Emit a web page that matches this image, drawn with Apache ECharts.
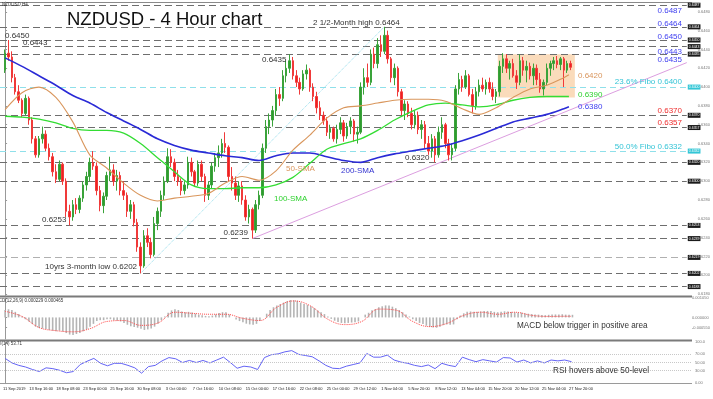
<!DOCTYPE html>
<html>
<head>
<meta charset="utf-8">
<script src="https://cdn.jsdelivr.net/npm/echarts@6.0.0/dist/echarts.min.js"></script>
<style>html,body{margin:0;padding:0;background:#fff;}#chart{width:713px;height:399px;}</style>
</head>
<body>
<div id="chart"></div>
<script>
// ---------------- DATA (prices in pips: price x 10000) ----------------
// one candle per two 4H bars
const opens = [6418,6436,6432,6410,6395,6386,6372,6388,6365,6345,6328,6345,6350,6335,6326,6310,6302,6318,6300,6268,
6262,6275,6270,6282,6296,6305,6320,6316,6290,6274,6284,6306,6312,6300,6306,6290,6285,6268,6275,6256,
6230,6210,6242,6235,6222,6255,6268,6285,6300,6326,6320,6305,6300,6290,6296,6320,6310,6298,6318,6305,
6285,6296,6316,6325,6330,6340,6336,6305,6298,6285,6295,6280,6262,6270,6248,6275,6285,6335,6358,6365,
6375,6392,6388,6412,6420,6428,6412,6405,6398,6414,6418,6400,6390,6378,6370,6364,6352,6356,6345,6355,
6362,6348,6358,6364,6350,6352,6400,6410,6405,6435,6425,6445,6438,6455,6430,6410,6420,6395,6375,6382,
6372,6360,6370,6355,6360,6340,6332,6345,6328,6352,6360,6340,6328,6335,6398,6408,6400,6412,6392,6380,
6395,6402,6398,6405,6398,6390,6395,6422,6430,6420,6425,6412,6405,6428,6418,6422,6412,6420,6408,6398,
6405,6420,6425,6428,6424,6430,6418,6425];
const highs = [6440,6450,6438,6414,6402,6388,6392,6390,6368,6348,6348,6358,6354,6340,6330,6318,6322,6320,6303,6275,
6280,6282,6285,6300,6310,6325,6332,6320,6295,6288,6310,6326,6318,6312,6310,6300,6288,6280,6278,6260,
6235,6248,6250,6240,6262,6272,6290,6305,6335,6334,6324,6312,6303,6300,6326,6325,6312,6322,6322,6308,
6300,6320,6330,6338,6345,6352,6338,6315,6305,6300,6300,6285,6275,6272,6280,6290,6340,6365,6372,6380,
6398,6400,6418,6428,6435,6432,6418,6410,6418,6424,6420,6404,6395,6385,6374,6368,6360,6358,6360,6368,
6365,6362,6368,6366,6358,6405,6420,6425,6440,6442,6452,6455,6464,6460,6432,6425,6422,6398,6386,6385,
6378,6375,6374,6365,6364,6348,6350,6348,6358,6368,6362,6345,6340,6402,6415,6412,6418,6414,6398,6400,
6408,6410,6408,6410,6405,6398,6428,6436,6435,6428,6430,6418,6435,6432,6428,6426,6425,6424,6415,6408,
6425,6428,6432,6433,6432,6432,6428,6428];
const lows = [6415,6428,6405,6392,6383,6368,6370,6360,6340,6325,6325,6340,6332,6322,6305,6298,6300,6296,6262,6253,
6258,6265,6266,6278,6290,6300,6312,6285,6268,6266,6280,6300,6295,6290,6285,6280,6262,6260,6252,6225,
6202,6208,6230,6218,6220,6248,6262,6280,6298,6315,6300,6295,6285,6286,6292,6305,6294,6295,6300,6278,
6280,6292,6310,6315,6325,6330,6300,6290,6280,6278,6275,6258,6255,6239,6245,6270,6282,6330,6350,6358,
6370,6380,6385,6405,6415,6408,6400,6392,6396,6408,6395,6385,6372,6365,6360,6348,6345,6342,6340,6350,
6342,6345,6350,6342,6340,6350,6392,6400,6402,6420,6420,6432,6435,6425,6405,6402,6390,6370,6365,6368,
6355,6356,6350,6345,6335,6328,6325,6320,6325,6345,6335,6322,6322,6332,6392,6395,6398,6390,6372,6376,
6390,6395,6392,6394,6386,6383,6390,6415,6415,6408,6410,6398,6402,6412,6405,6408,6402,6402,6394,6391,
6402,6412,6418,6420,6418,6400,6415,6418];
const closes = [6436,6432,6410,6395,6386,6372,6388,6365,6345,6328,6345,6350,6335,6326,6310,6302,6318,6300,6268,6262,
6275,6270,6282,6296,6305,6320,6316,6290,6274,6284,6306,6312,6300,6306,6290,6285,6268,6275,6256,6230,
6210,6242,6235,6222,6255,6268,6285,6300,6326,6320,6305,6300,6290,6296,6320,6310,6298,6318,6305,6285,
6296,6316,6325,6330,6340,6336,6305,6298,6285,6295,6280,6262,6270,6248,6275,6285,6335,6358,6365,6375,
6392,6388,6412,6420,6428,6412,6405,6398,6414,6418,6400,6390,6378,6370,6364,6352,6356,6345,6355,6362,
6348,6358,6364,6350,6352,6400,6410,6405,6435,6425,6445,6438,6455,6430,6410,6420,6395,6375,6382,6372,
6360,6370,6355,6360,6340,6332,6345,6328,6352,6360,6340,6328,6335,6398,6408,6400,6412,6392,6380,6395,
6402,6398,6405,6398,6390,6395,6422,6430,6420,6425,6412,6405,6428,6418,6422,6412,6420,6408,6398,6405,
6420,6425,6428,6424,6430,6418,6425,6421];
const barsPerCandle = 2;

// moving averages, sampled at these 4H bar numbers
const smaBars = [0,10,20,30,40,50,60,70,80,90,100,110,120,130,140,150,160,170,180,190,200,210,220,230,240,250,260,270,280,290,300,310,320,330,333];
const sma50  = [6376,6394,6400,6389,6363,6328,6314,6298,6285,6279,6282,6284,6287,6298,6305,6301,6311,6333,6349,6367,6378,6380,6383,6386,6387,6387,6385,6377,6371,6378,6389,6398,6402,6410,6413];
const sma100 = [6369,6368,6366,6362,6356,6354,6354,6351,6340,6325,6310,6296,6292,6292,6293,6293,6296,6304,6319,6334,6340,6345,6354,6365,6374,6381,6383,6381,6379,6381,6386,6389,6390,6390,6390];
const sma200 = [6431,6422,6412,6402,6391,6383,6373,6364,6355,6345,6338,6333,6330,6327,6325,6322,6327,6330,6330,6326,6322,6320,6325,6329,6332,6335,6338,6343,6349,6356,6363,6367,6371,6377,6379];

// MACD (units of 0.0001): histogram one per candle, signal at smaBars
const macdHist = [4.0,4.4,4.0,3.0,1.8,0.5,-1.0,-2.2,-3.5,-5.0,
-5.8,-6.0,-6.3,-6.8,-7.2,-7.5,-7.2,-7.6,-8.5,-9.3,
-9.5,-9.0,-8.5,-7.5,-6.5,-5.0,-3.5,-2.0,-1.5,-1.5,
-1.0,-1.0,-1.5,-1.8,-2.2,-3.0,-4.0,-4.8,-5.2,-5.6,
-6.2,-6.8,-6.5,-6.0,-5.0,-3.5,-1.5,0.5,2.5,3.8,
4.4,4.0,3.2,2.8,3.0,2.6,2.0,1.5,1.2,0.8,
0.6,1.0,1.6,2.4,2.8,2.8,1.5,0.0,-1.2,-2.0,
-2.6,-3.4,-3.8,-4.0,-3.5,-2.0,0.0,2.0,4.0,5.5,
6.5,7.2,8.0,8.8,9.4,9.3,9.0,8.0,7.2,6.8,
6.0,5.0,3.8,2.8,1.8,0.5,-0.8,-1.8,-2.5,-3.0,
-3.2,-3.0,-2.8,-2.6,-2.2,0.0,1.5,2.5,3.8,4.5,
5.5,6.0,6.5,6.4,5.8,5.0,4.0,2.8,1.5,0.5,
-1.0,-2.0,-3.0,-3.6,-4.5,-5.2,-5.5,-5.6,-5.0,-4.2,
-3.8,-4.0,-3.8,-1.0,1.0,2.2,3.0,3.2,3.0,3.0,
3.2,3.4,3.5,3.4,3.0,2.8,3.0,3.3,3.2,3.0,
2.8,2.5,2.6,2.2,2.0,1.8,1.6,1.5,1.3,1.2,
1.4,1.5,1.6,1.6,1.7,1.5,1.4,1.4];
const macdSignal = [3.3,0.5,-5.5,-7.2,-7.8,-6.1,-2.2,-1.7,-4.3,-3.0,2.8,2.2,1.7,1.7,-0.5,-1.7,5.5,8.9,6.1,-1.0,-3.9,-2.2,4.5,3.9,-2.2,-5.0,-3.3,1.1,2.8,1.7,2.8,1.1,0.5,0.6,0.6];

// RSI(14), one reading every 4 bars
const rsiStep = 4;
const rsiValues = [60,49,43,39,33,28,37,35,31,25,28,45,53,60,48,42,48,48,43,37,
24,40,43,54,62,59,50,55,50,55,49,56,63,50,36,41,39,33,62,69,
71,76,79,70,67,64,54,43,36,35,41,45,49,72,63,63,68,56,51,48,
43,40,44,35,48,43,40,63,57,52,57,54,51,62,61,51,56,49,54,49,
56,54,56,52];

// horizontal levels and drawings
const levelLines = [6487,6464,6450,6443,6435,6370,6357,6320,6300,6253,6239,6219,6202,6188];
const fiboLevels = [6400,6332];
const boxBars = [291, 336.5];
const boxPrices = [6435, 6389];
const fiboTrend = [[80, 6202], [224, 6464]];
const supportTrend = [[146, 6239], [402.6, 6426]];

const tickLabels = ['11 Sep 2019','13 Sep 16:00','18 Sep 08:00','23 Sep 00:00','25 Sep 16:00','30 Sep 08:00','3 Oct 00:00','7 Oct 16:00','10 Oct 08:00','15 Oct 00:00','17 Oct 16:00','22 Oct 08:00','25 Oct 00:00','29 Oct 12:00','1 Nov 04:00','5 Nov 20:00','8 Nov 12:00','13 Nov 04:00','15 Nov 20:00','20 Nov 12:00','25 Nov 04:00','27 Nov 20:00'];

// ---------------- BUILD ----------------
const P = v => v / 10000;
const FONT = '"Liberation Sans", Arial, Helvetica, sans-serif';
const candleData = opens.map((o, j) => [j * barsPerCandle, P(o), P(closes[j]), P(lows[j]), P(highs[j])]);
const maLine = arr => smaBars.map((b, i) => [b, P(arr[i])]);
const histData = macdHist.map((v, j) => [j * barsPerCandle, v / 10000]);
const sigData = smaBars.map((b, i) => [b, macdSignal[i] / 10000]);
const rsiData = rsiValues.map((v, k) => [k * rsiStep, v]);

const XMIN = -3, XMAX = 402.6;

const levelMarks = levelLines.map(v => ({
  yAxis: P(v),
  lineStyle: {color: v === 6219 ? '#b0b0b0' : '#6e6e6e', type: [7, 4], width: 1},
  label: {show: true, position: 'end', distance: 1, formatter: () => P(v).toFixed(4), fontSize: 3.5, color: '#fff', backgroundColor: '#1a1a1a', padding: [0.5, 1], fontFamily: FONT}
})).concat(fiboLevels.map(v => ({
  yAxis: P(v),
  lineStyle: {color: '#8fe0ea', type: [6, 4], width: 1},
  label: {show: true, position: 'end', distance: 1, formatter: () => P(v).toFixed(4), fontSize: 3.5, color: '#fff', backgroundColor: '#33c6d6', padding: [0.5, 1], fontFamily: FONT}
})));

function T(text, x, y, color, size, align) {
  return {type: 'text', x: x, y: y, silent: true, z: 50,
    style: {text: text, fill: color, font: size + 'px ' + FONT,
      align: align || 'left', verticalAlign: 'middle', textAlign: align || 'left', textVerticalAlign: 'middle'}};
}
const blue = '#4040f0', red = '#ee2c2c', cyan = '#34c4d6', orange = '#d9955c', green = '#2fd12f', dark = '#333';
const graphics = [
  {type: 'line', silent: true, shape: {x1: 0, y1: 2.5, x2: 692, y2: 2.5}, style: {stroke: '#8a8a8a', lineWidth: 1}},
  {type: 'rect', silent: true, shape: {x: 0, y: 295.5, width: 692, height: 2}, style: {fill: '#7a7a7a'}},
  {type: 'rect', silent: true, shape: {x: 0, y: 339.5, width: 692, height: 2}, style: {fill: '#7a7a7a'}},
  {type: 'line', silent: true, shape: {x1: 0, y1: 383.5, x2: 692, y2: 383.5}, style: {stroke: '#9a9a9a', lineWidth: 1}},
  T('NZDUSD,H4', 2, 4.5, dark, 4.5),
  T('NZDUSD - 4 Hour chart', 67, 20, '#111', 18.5),
  T('2 1/2-Month high 0.6464', 313, 22.7, dark, 8),
  T('0.6450', 5, 36, dark, 8),
  T('0.6443', 23, 43, dark, 8),
  T('0.6435', 262, 60, dark, 8),
  T('0.6253', 42, 219.5, dark, 8),
  T('10yrs 3-month low 0.6202', 45, 267, dark, 8),
  T('0.6239', 223.5, 232.5, dark, 8),
  T('0.6320', 405, 157.5, dark, 8),
  T('50-SMA', 286, 169, orange, 8),
  T('100-SMA', 274, 199, green, 8),
  T('200-SMA', 341, 171, '#3434d0', 8),
  T('0.6487', 682, 11, blue, 8, 'right'),
  T('0.6464', 682, 23.5, blue, 8, 'right'),
  T('0.6450', 682, 36.5, blue, 8, 'right'),
  T('0.6443', 682, 51.5, blue, 8, 'right'),
  T('0.6435', 682, 60, blue, 8, 'right'),
  T('0.6420', 578, 75.5, orange, 8),
  T('23.6% Fibo 0.6400', 682, 82, cyan, 8, 'right'),
  T('0.6390', 578, 95, green, 8),
  T('0.6380', 578, 107, blue, 8),
  T('0.6370', 682, 111, red, 8, 'right'),
  T('0.6357', 682, 123, red, 8, 'right'),
  T('50.0% Fibo 0.6332', 682, 147, cyan, 8, 'right'),
  T('MACD(12,26,9) 0.000229 0.000465', -8, 300.5, dark, 4.5),
  T('MACD below trigger in positive area', 517, 326, dark, 8.2),
  T('RSI(14) 53.71', -6, 344, dark, 4.5),
  T('RSI hovers above 50-level', 553, 371, dark, 8.2)
];

const hiddenX = i => ({gridIndex: i, type: 'value', min: XMIN, max: XMAX, show: false, splitLine: {show: false}});
const option = {
  animation: false,
  backgroundColor: '#ffffff',
  textStyle: {fontFamily: FONT},
  grid: [
    {left: 0, right: 21, top: 2, height: 294},
    {left: 0, right: 21, top: 298, height: 41},
    {left: 0, right: 21, top: 342, height: 41},
    {left: 7.7, width: 573.3, top: 342, height: 41}
  ],
  xAxis: [hiddenX(0), hiddenX(1), hiddenX(2),
    {gridIndex: 3, type: 'value', min: 0, max: 336, interval: 16,
     axisLine: {show: false}, axisTick: {show: false}, splitLine: {show: false},
     axisLabel: {fontSize: 4, color: '#222', margin: 4, fontFamily: FONT,
       formatter: v => tickLabels[Math.round(v / 16)] || ''}}],
  yAxis: [
    {gridIndex: 0, type: 'value', position: 'right', min: 0.6178, max: 0.64904, splitNumber: 15,
     axisLine: {show: true, lineStyle: {color: '#999'}}, axisTick: {show: true, length: 2, lineStyle: {color: '#999'}},
     splitLine: {show: false},
     axisLabel: {fontSize: 4, color: '#777', margin: 11, fontFamily: FONT, showMinLabel: false, showMaxLabel: false, formatter: v => v.toFixed(4)}},
    {gridIndex: 1, type: 'value', position: 'right', min: -0.00117, max: 0.00105,
     axisLine: {show: true, lineStyle: {color: '#999'}}, axisTick: {show: true, length: 2, customValues: [0.00105, 0, -0.00055], lineStyle: {color: '#999'}},
     splitLine: {show: false},
     axisLabel: {fontSize: 4, color: '#777', margin: 3, fontFamily: FONT, customValues: [0.00105, 0, -0.00055], formatter: v => v.toFixed(6)}},
    {gridIndex: 2, type: 'value', position: 'right', min: 0, max: 100,
     axisLine: {show: true, lineStyle: {color: '#999'}}, axisTick: {show: true, length: 2, customValues: [0, 30, 50, 70, 100], lineStyle: {color: '#999'}},
     splitLine: {show: false},
     axisLabel: {fontSize: 4, color: '#777', margin: 3, fontFamily: FONT, customValues: [0, 30, 50, 70, 100], formatter: v => v === 100 ? '100.0' : v.toFixed(2)}},
    {gridIndex: 3, type: 'value', min: 0, max: 100, show: false, splitLine: {show: false}}
  ],
  series: [
    {type: 'line', name: 'levels', xAxisIndex: 0, yAxisIndex: 0, data: [], silent: true, z: 1,
     markLine: {silent: true, symbol: 'none', z: 1, precision: 5, data: levelMarks, animation: false}},
    {type: 'candlestick', name: 'NZDUSD', xAxisIndex: 0, yAxisIndex: 0, z: 3, barWidth: 2,
     dimensions: ['t', 'open', 'close', 'lowest', 'highest'],
     encode: {x: 't', y: ['open', 'close', 'lowest', 'highest']},
     data: candleData,
     itemStyle: {color: '#2f9b2f', color0: '#f02020', borderColor: '#3aa33a', borderColor0: '#f03a3a', borderWidth: 1},
     markArea: {silent: true, precision: 5, itemStyle: {color: 'rgba(248,200,150,0.65)'},
       data: [[{xAxis: boxBars[0], yAxis: P(boxPrices[0])}, {xAxis: boxBars[1], yAxis: P(boxPrices[1])}]]}},
    {type: 'line', name: 'fiboTrend', xAxisIndex: 0, yAxisIndex: 0, z: 2, symbol: 'none', silent: true,
     data: fiboTrend.map(p => [p[0], P(p[1])]), lineStyle: {color: '#8fdcec', width: 1, type: 'dotted'}},
    {type: 'line', name: 'supportTrend', xAxisIndex: 0, yAxisIndex: 0, z: 2, symbol: 'none', silent: true,
     data: supportTrend.map(p => [p[0], P(p[1])]), lineStyle: {color: '#dc9ee0', width: 1}},
    {type: 'line', name: '200-SMA', xAxisIndex: 0, yAxisIndex: 0, z: 4, symbol: 'none', smooth: 0.3,
     data: maLine(sma200), lineStyle: {color: '#2a2ad6', width: 1.6}},
    {type: 'line', name: '100-SMA', xAxisIndex: 0, yAxisIndex: 0, z: 4, symbol: 'none', smooth: 0.3,
     data: maLine(sma100), lineStyle: {color: '#33dd33', width: 1.3}},
    {type: 'line', name: '50-SMA', xAxisIndex: 0, yAxisIndex: 0, z: 4, symbol: 'none', smooth: 0.3,
     data: maLine(sma50), lineStyle: {color: '#d9965c', width: 1.1}},
    {type: 'bar', name: 'MACD', xAxisIndex: 1, yAxisIndex: 1, barWidth: 1.6, data: histData,
     itemStyle: {color: '#b4b4b4'}},
    {type: 'line', name: 'Signal', xAxisIndex: 1, yAxisIndex: 1, symbol: 'none', smooth: 0.4, z: 4,
     data: sigData, lineStyle: {color: '#ff4a4a', width: 1, type: 'dotted'}},
    {type: 'line', name: 'RSI', xAxisIndex: 2, yAxisIndex: 2, symbol: 'none', z: 4,
     data: rsiData, lineStyle: {color: '#6464f5', width: 1},
     markLine: {silent: true, symbol: 'none', label: {show: false},
       lineStyle: {color: '#c8c8c8', type: 'dotted', width: 1},
       data: [{yAxis: 30}, {yAxis: 50}, {yAxis: 70}]}},
    {type: 'line', name: 'axisHolder', xAxisIndex: 3, yAxisIndex: 3, data: [], silent: true}
  ],
  graphic: graphics
};
const chart = echarts.init(document.getElementById('chart'), null, {renderer: 'canvas'});
chart.setOption(option);
</script>
</body>
</html>
